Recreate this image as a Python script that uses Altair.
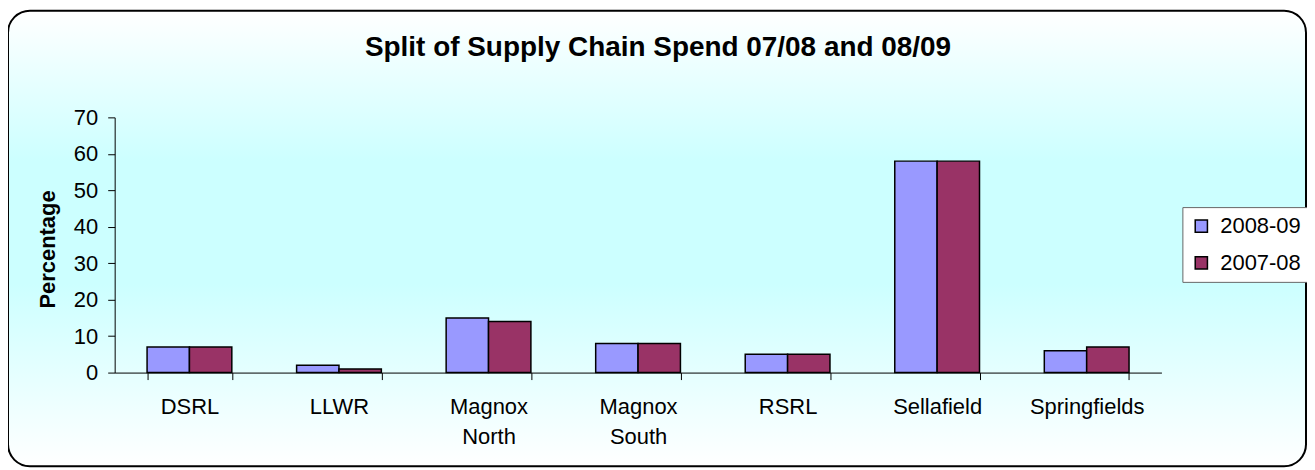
import altair as alt
import pandas as pd

# ---- data ----
sites = ["DSRL", "LLWR", "Magnox North", "Magnox South", "RSRL", "Sellafield", "Springfields"]
years = ["2008-09", "2007-08"]
spend_0809 = [7, 2, 15, 8, 5, 58, 6]
spend_0708 = [7, 1, 14, 8, 5, 58, 7]
y_ticks = [0, 10, 20, 30, 40, 50, 60, 70]
title_text = "Split of Supply Chain Spend 07/08 and 08/09"
y_title = "Percentage"
colors = ["#9999FF", "#993366"]

rows = []
for s, a, b in zip(sites, spend_0809, spend_0708):
    rows.append({"site": s, "year": years[0], "pct": a})
    rows.append({"site": s, "year": years[1], "pct": b})
df = pd.DataFrame(rows)

FONT = "Liberation Sans"
W, H = 1050, 256

bg = alt.Chart(pd.DataFrame({"k": [0]})).mark_rect(
    fill=alt.Gradient(
        gradient="linear", x1=0, x2=0, y1=0, y2=1,
        stops=[
            alt.GradientStop(offset=0.0, color="#FFFFFF"),
            alt.GradientStop(offset=0.33, color="#CCFFFF"),
            alt.GradientStop(offset=0.6, color="#CCFFFF"),
            alt.GradientStop(offset=1.0, color="#FFFFFF"),
        ],
    ),
    stroke="black", strokeWidth=2, cornerRadius=22,
).encode(x=alt.value(-107), x2=alt.value(1195), y=alt.value(-107), y2=alt.value(350))

bars = alt.Chart(df).mark_bar(stroke="black", strokeWidth=1.5).encode(
    x=alt.X(
        "site:N", sort=sites,
        scale=alt.Scale(paddingInner=0.4333, paddingOuter=0.21667),
        axis=alt.Axis(
            title=None, labelExpr="split(datum.label, ' ')", labelFont=FONT,
            labelFontSize=22, labelColor="black", labelAngle=0, labelPadding=17,
            labelLineHeight=30, labelBaseline="top", tickBand="extent", tickSize=7,
            tickColor="black", domainColor="black", zindex=1,
        ),
    ),
    xOffset=alt.XOffset("year:N", sort=years, scale=alt.Scale(paddingInner=0, paddingOuter=0)),
    y=alt.Y(
        "pct:Q", scale=alt.Scale(domain=[0, 70], nice=False),
        axis=alt.Axis(
            values=y_ticks, title=y_title, grid=False, labelFont=FONT, labelFontSize=22,
            labelColor="black", labelPadding=10, tickSize=7, tickColor="black",
            domainColor="black", titleFont=FONT, titleFontSize=22, titleFontWeight="bold",
            titleColor="black", titleX=-60, titleY=132, titleBaseline="alphabetic",
            titleAngle=270, zindex=1,
        ),
    ),
    color=alt.Color(
        "year:N", sort=years, scale=alt.Scale(domain=years, range=colors),
        legend=alt.Legend(
            title=None, orient="none", legendX=1071, legendY=90, labelFont=FONT,
            labelFontSize=22, labelColor="black", symbolType="square", symbolSize=150,
            symbolStrokeColor="black", symbolStrokeWidth=1.5, fillColor="white",
            strokeColor="#666666", padding=8, rowPadding=15, labelOffset=8, zindex=1,
        ),
    ),
)

title = alt.Chart(pd.DataFrame({"t": [title_text]})).mark_text(
    font=FONT, fontSize=28, fontWeight="bold", color="black", align="center", baseline="alphabetic"
).encode(text="t:N", x=alt.value(545), y=alt.value(-62))

chart = alt.layer(bg, bars, title).properties(
    width=W, height=H,
    padding={"left": 107, "top": 109, "right": 146, "bottom": 97},
    autosize=alt.AutoSizeParams(type="none"),
    background="white",
).configure_view(stroke=None)

chart.save("out.html", embed_options={"renderer": "svg", "actions": False})
